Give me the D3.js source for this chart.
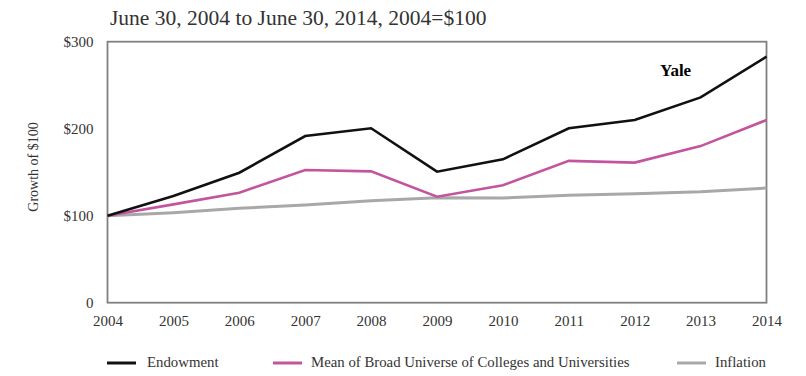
<!DOCTYPE html>
<html><head><meta charset="utf-8">
<script src="https://cdn.jsdelivr.net/npm/d3@7"></script>
<style>
body{margin:0;background:#fff;}
svg text{font-family:"Liberation Serif","DejaVu Serif",serif !important;fill:#333;}
</style></head>
<body><svg id="c" width="806" height="376"></svg>
<script>
const years = [2004,2005,2006,2007,2008,2009,2010,2011,2012,2013,2014];
const endowment = [100,122.6,149.4,191.6,200.5,150.6,164.8,200.5,210,236,282.8];
const broadMean = [100,113,126.4,152.5,151,121.8,135,163,161,180,210];
const inflation = [100,103.5,108.5,112.3,117.2,120.7,120.3,123.4,125.3,127.6,131.8];
const yTicks = [0,100,200,300];
const yTickLabels = ["0","$100","$200","$300"];
const seriesNames = ["Endowment","Mean of Broad Universe of Colleges and Universities","Inflation"];
const seriesColors = ["#111111","#c3559f","#a8a8a8"];

const svg = d3.select("#c");
const x = d3.scaleLinear().domain([2004,2014]).range([107.5,766.5]);
const y = d3.scaleLinear().domain([0,300]).range([302.7,41.7]);

// title
svg.append("text").attr("x",110).attr("y",25).attr("font-size",21.5).text("June 30, 2004 to June 30, 2014, 2004=$100");

// frame
svg.append("rect").attr("x",x(2004)).attr("y",y(300)).attr("width",x(2014)-x(2004)).attr("height",y(0)-y(300))
  .attr("fill","none").attr("stroke","#808080").attr("stroke-width",1.8);

// y axis
const yAxis = d3.axisLeft(y).tickValues(yTicks).tickFormat((d,i)=>yTickLabels[i]).tickSize(0).tickPadding(14);
const ga = svg.append("g").attr("transform",`translate(${x(2004)},0)`).call(yAxis);
ga.select(".domain").remove();
ga.selectAll("text").attr("font-size",15).attr("fill","#333");

// x axis
const xAxis = d3.axisBottom(x).tickValues(years).tickFormat(d3.format("d")).tickSize(0).tickPadding(13);
const gx = svg.append("g").attr("transform",`translate(0,${y(0)})`).call(xAxis);
gx.select(".domain").remove();
gx.selectAll("text").attr("font-size",15).attr("fill","#333");

// y label
svg.append("text").attr("transform","translate(38,167) rotate(-90)").attr("text-anchor","middle")
  .attr("font-size",14).text("Growth of $100");

// lines
const line = d3.line().x((d,i)=>x(years[i])).y(d=>y(d));
const data = [inflation, broadMean, endowment];
const cols = [seriesColors[2], seriesColors[1], seriesColors[0]];
const widths = [3, 2.6, 2.6];
data.forEach((s,k)=>{
  svg.append("path").datum(s).attr("d",line).attr("fill","none").attr("stroke",cols[k])
    .attr("stroke-width",widths[k]).attr("stroke-linejoin","miter");
});

// Yale label
svg.append("text").attr("x",660).attr("y",76).attr("font-size",17).attr("font-weight","bold")
  .style("fill","#000").text("Yale");

// legend
const legX = [107,273,677];
const legTX = [147,311,715];
seriesNames.forEach((n,i)=>{
  svg.append("line").attr("x1",legX[i]).attr("x2",legX[i]+29).attr("y1",363).attr("y2",363)
    .attr("stroke",seriesColors[i]).attr("stroke-width",3);
  svg.append("text").attr("x",legTX[i]).attr("y",367).attr("font-size",14.8).text(n);
});
</script></body></html>
